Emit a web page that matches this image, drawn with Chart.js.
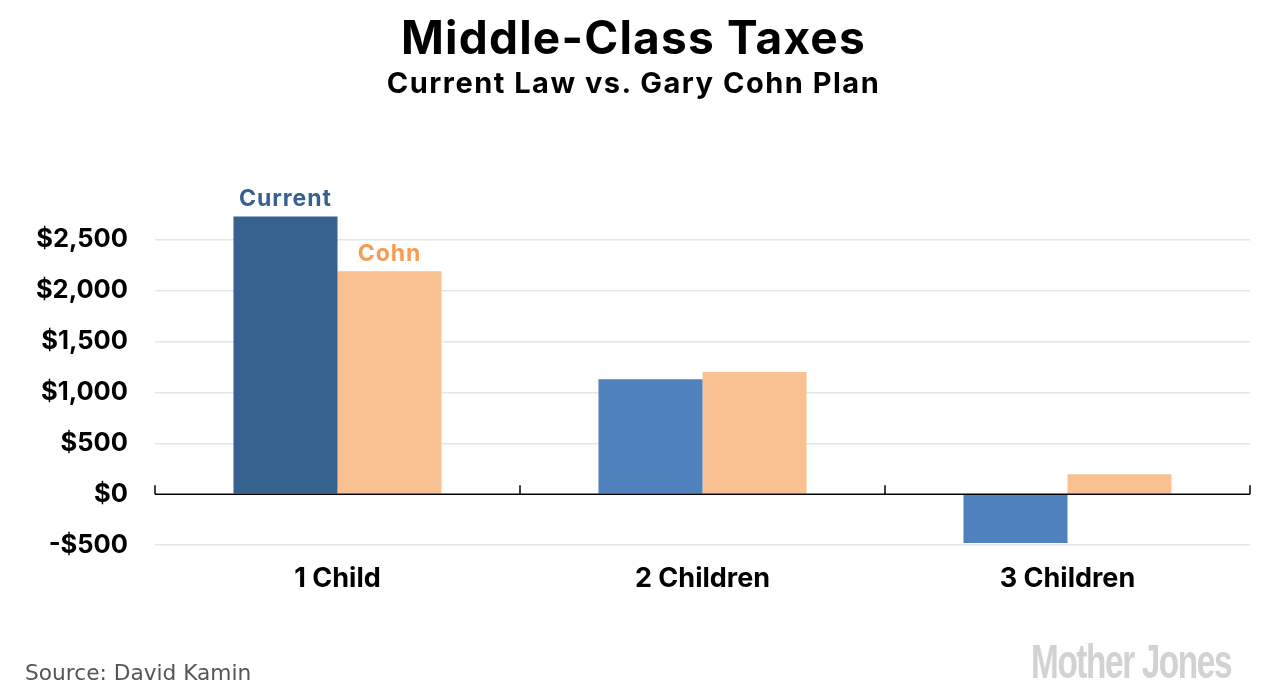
<!DOCTYPE html>
<html>
<head>
<meta charset="utf-8">
<script src="https://cdn.jsdelivr.net/npm/chart.js@4.4.1/dist/chart.umd.min.js"></script>
<style>
  body { margin: 0; background: #fff; }
  #wrap { position: relative; width: 1267px; height: 700px; overflow: hidden; }
  #taxChart { position: absolute; left: 0; top: 0; }
  .title { position: absolute; left: 0; width: 1267px; text-align: center; font-family: Inter, sans-serif; font-weight: 700; color: #000; white-space: nowrap; }
  #t1 { top: 9px; font-size: 46px; letter-spacing: 1.2px; }
  #t2 { top: 65px; font-size: 29px; letter-spacing: 1.5px; }
  #source { position: absolute; left: 25px; top: 660px; font-family: "DejaVu Sans", Verdana, sans-serif; font-size: 21.7px; color: #555; white-space: nowrap; }
  #logo { position: absolute; left: 1031px; top: 634px; font-family: "Liberation Sans Narrow", "Liberation Sans", sans-serif; font-weight: 700; font-size: 48px; letter-spacing: -2px; color: #d2d2d2; white-space: nowrap; transform-origin: left top; }
</style>
</head>
<body>
<div id="wrap">
  <canvas id="taxChart" width="1267" height="700"></canvas>
  <div class="title" id="t1">Middle-Class Taxes</div>
  <div class="title" id="t2">Current Law vs. Gary Cohn Plan</div>
  <div id="source">Source: David Kamin</div>
  <div id="logo">Mother Jones</div>
</div>
<script>
const categories = ['1 Child', '2 Children', '3 Children'];
const currentLaw = [2730, 1130, -480];
const cohnPlan = [2190, 1200, 195];
const yTickValues = [-500, 0, 500, 1000, 1500, 2000, 2500];
const currentColors = ['#37618F', '#4F81BD', '#4F81BD'];
const cohnColor = '#F9C191';
const labelColors = ['#37618F', '#F79C52'];

const money = v => (v < 0 ? '-$' : '$') + Math.abs(v).toLocaleString('en-US');

// squeeze the logo text into its slot
const logo = document.getElementById('logo');
logo.style.transform = 'scaleX(' + (200 / logo.offsetWidth) + ')';

// zero line with small ticks at category boundaries
const zeroLine = {
  id: 'zeroLine',
  afterDatasetsDraw(chart) {
    const { ctx, scales: { x, y } } = chart;
    const y0 = y.getPixelForValue(0);
    ctx.save();
    ctx.strokeStyle = '#000';
    ctx.lineWidth = 1.5;
    ctx.beginPath();
    ctx.moveTo(chart.chartArea.left, y0);
    ctx.lineTo(chart.chartArea.right, y0);
    for (let i = 0; i <= categories.length; i++) {
      const px = x.getPixelForValue(i - 0.5);
      ctx.moveTo(px, y0);
      ctx.lineTo(px, y0 - 9);
    }
    ctx.stroke();
    ctx.restore();
  }
};

// series names above the first pair of bars
const seriesLabels = {
  id: 'seriesLabels',
  afterDatasetsDraw(chart) {
    const { ctx } = chart;
    ctx.save();
    ctx.font = '700 23px Inter, sans-serif';
    ctx.letterSpacing = '1px';
    ctx.textAlign = 'center';
    ctx.textBaseline = 'bottom';
    chart.data.datasets.forEach((ds, i) => {
      const bar = chart.getDatasetMeta(i).data[0];
      ctx.fillStyle = labelColors[i];
      ctx.fillText(ds.label, bar.x, bar.y - 6);
    });
    ctx.restore();
  }
};

const ctx = document.getElementById('taxChart').getContext('2d');
new Chart(ctx, {
  type: 'bar',
  data: {
    labels: categories,
    datasets: [
      { label: 'Current', data: currentLaw, backgroundColor: currentColors },
      { label: 'Cohn', data: cohnPlan, backgroundColor: cohnColor }
    ]
  },
  options: {
    responsive: false,
    animation: false,
    categoryPercentage: 0.57,
    barPercentage: 1.0,
    layout: { padding: { top: 194, right: 17, bottom: 95, left: 0 } },
    plugins: { legend: { display: false }, tooltip: { enabled: false } },
    scales: {
      x: {
        grid: { display: false, drawTicks: false },
        border: { display: false },
        ticks: { color: '#000', padding: 18, font: { family: 'Inter', weight: '700', size: 27 } },
        afterFit(scale) { scale.height = 60; }
      },
      y: {
        min: -500,
        max: 2950,
        ticks: {
          autoSkip: false,
          padding: 27,
          color: '#000',
          font: { family: 'Inter', weight: '700', size: 25.5 },
          callback: v => money(v)
        },
        afterBuildTicks(scale) {
          scale.ticks = yTickValues.map(v => ({ value: v }));
        },
        grid: {
          drawTicks: false,
          color: c => (c.tick && c.tick.value === 0 ? 'rgba(0,0,0,0)' : '#e6e6e6'),
          lineWidth: 1.5
        },
        border: { display: false },
        afterFit(scale) { scale.width = 155; }
      }
    }
  },
  plugins: [zeroLine, seriesLabels]
});
</script>
</body>
</html>
